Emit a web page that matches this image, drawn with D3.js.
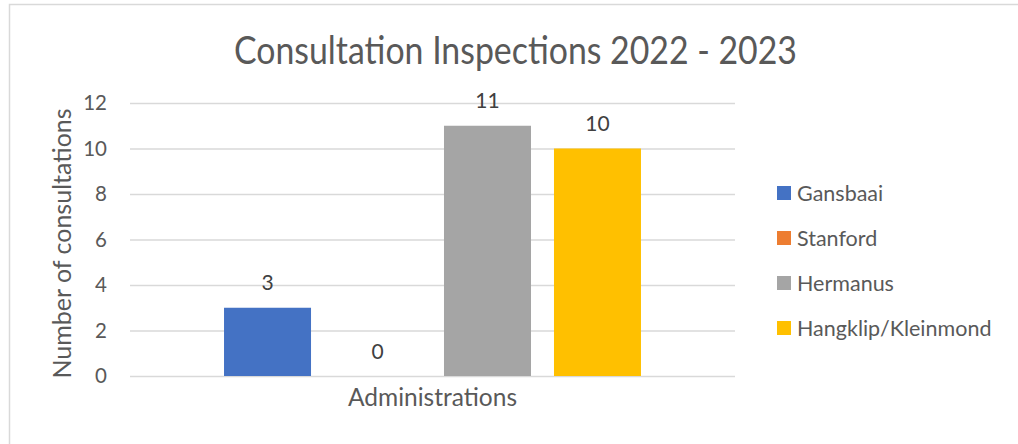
<!DOCTYPE html>
<html><head><meta charset="utf-8">
<script src="https://cdn.jsdelivr.net/npm/d3@7"></script>
<style>html,body{margin:0;padding:0;background:#fff;}svg{display:block;font-family:Lato,"Open Sans",sans-serif;}</style>
</head><body>
<script>
const title = "Consultation Inspections 2022 - 2023";
const category = "Administrations";
const seriesNames = ["Gansbaai", "Stanford", "Hermanus", "Hangklip/Kleinmond"];
const seriesValues = [3, 0, 11, 10];
const seriesColors = ["#4472C4", "#ED7D31", "#A5A5A5", "#FFC000"];
const yTicks = [0, 2, 4, 6, 8, 10, 12];
const yTitle = "Number of consultations";

const W = 1018, H = 444;
const svg = d3.select("body").append("svg").attr("width", W).attr("height", H);
const txt = "#595959", grid = "#d9d9d9";

svg.append("rect").attr("x", 9.5).attr("y", 4.5).attr("width", W + 10).attr("height", H + 10)
  .attr("fill", "#fff").attr("stroke", grid).attr("stroke-width", 1.5);

const plot = {left: 130, right: 735, top: 103, bottom: 376};
const y = d3.scaleLinear().domain([0, 12]).range([plot.bottom, plot.top]);
const x0 = d3.scaleBand().domain([category]).range([plot.left, plot.right]).paddingInner(0).paddingOuter(0.2255);
const x1 = d3.scaleBand().domain(seriesNames).range([0, x0.bandwidth()]).paddingInner(0.209).paddingOuter(0);

// gridlines
const yAxis = d3.axisLeft(y).tickValues(yTicks).tickSize(-(plot.right - plot.left)).tickPadding(23);
const ga = svg.append("g").attr("transform", `translate(${plot.left},0)`).call(yAxis);
ga.select(".domain").remove();
ga.selectAll(".tick line").attr("stroke", grid).attr("stroke-width", 1.5);
ga.selectAll(".tick text").attr("fill", txt).style("font-size", "20.5px").style("font-family", "Lato");

// bars
const data = seriesNames.map((n, i) => ({name: n, value: seriesValues[i], color: seriesColors[i]}));
const g = svg.append("g").attr("transform", `translate(${x0(category)},0)`);
g.selectAll("rect").data(data).join("rect")
  .attr("x", d => x1(d.name)).attr("width", x1.bandwidth())
  .attr("y", d => y(d.value)).attr("height", d => y(0) - y(d.value))
  .attr("fill", d => d.color);
g.selectAll("text").data(data).join("text")
  .attr("x", d => x1(d.name) + x1.bandwidth() / 2).attr("y", d => y(d.value) - 17.5)
  .attr("text-anchor", "middle").attr("fill", "#404040").style("font-size", "21px").text(d => d.value);

// x axis title
svg.append("text").attr("x", (plot.left + plot.right) / 2).attr("y", 406).attr("text-anchor", "middle")
  .attr("fill", txt).style("font-size", "24.5px").text(category);

// y axis title
svg.append("text").attr("transform", `translate(71,243.5) rotate(-90)`)
  .attr("text-anchor", "middle").attr("fill", txt).style("font-size", "25px").text(yTitle);

// title
svg.append("text").attr("x", 515.5).attr("y", 64).attr("text-anchor", "middle")
  .attr("fill", txt).style("font-size", "38px")
  .attr("textLength", 563).attr("lengthAdjust", "spacingAndGlyphs").text(title);

// legend
const lg = svg.append("g");
const items = lg.selectAll("g").data(data).join("g")
  .attr("transform", (d, i) => `translate(777,${193 + i * 45})`);
items.append("rect").attr("x", 0).attr("y", -7).attr("width", 14).attr("height", 14).attr("fill", d => d.color);
items.append("text").attr("x", 20).attr("y", 7.5).attr("fill", txt).style("font-size", "21.5px").text(d => d.name);
</script>
</body></html>
